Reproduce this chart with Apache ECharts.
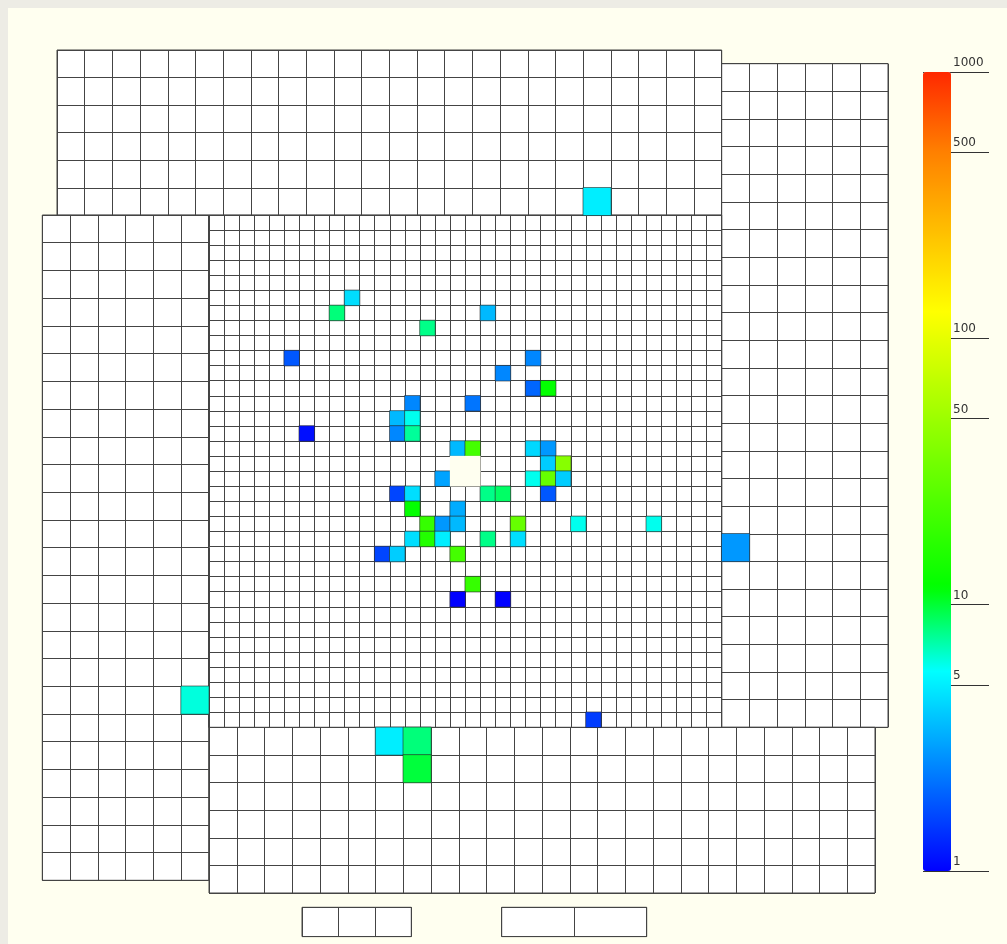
<!DOCTYPE html>
<html><head><meta charset="utf-8">
<script src="https://cdn.jsdelivr.net/npm/echarts@6/dist/echarts.min.js"></script>
<style>
html,body{margin:0;padding:0;background:#edece5;}
#c{position:absolute;left:8px;top:8px;width:999px;height:936px;}
</style></head><body><div id="c"></div>
<script>
// ---- data: [column, row, value] ----
const centerHits = [
  [9,5,4.5],[8,6,8.2],[18,6,3.5],[14,7,7.9],
  [5,9,1.8],[21,9,2.5],[19,10,2.5],
  [21,11,2.0],[22,11,12],
  [13,12,2.5],[17,12,2.2],
  [12,13,3.5],[13,13,5.9],
  [6,14,1.1],[12,14,2.5],[13,14,7.5],
  [16,15,3.5],[17,15,22],[21,15,4.3],[22,15,2.8],
  [22,16,4.0],[23,16,41],
  [15,17,3.0],[21,17,5.9],[22,17,30],[23,17,4.0],
  [12,18,1.6],[13,18,4.5],[18,18,7.9],[19,18,8.7],[22,18,1.8],
  [13,19,12],[16,19,3.2],
  [14,20,19],[15,20,2.8],[16,20,3.5],[20,20,30],[24,20,5.9],[29,20,5.9],
  [13,21,4.5],[14,21,16],[15,21,5.0],[18,21,7.9],[20,21,4.5],
  [11,22,1.6],[12,22,4.0],[16,22,22],
  [17,24,19],
  [16,25,1.0],[19,25,1.0],
  [25,33,1.5]
];
const centerHole = [[16,16],[17,16],[16,17],[17,17]];
const topHits = [[19,5,5.0]];
const rightHits = [[0,17,2.8]];
const leftHits = [[5,17,6.2]];
const bottomHits = [[6,0,5.0],[7,0,8.2],[7,1,9.8]];
const smallAHits = [];
const smallBHits = [];
const colorbarTicks = [1,5,10,50,100,500,1000];
const colorMin = 1, colorMax = 1000;

// ---- layout (chart coords) ----
const modules = [
  {cols:24, rows:6,  left:49,    top:42,    width:664.7, height:165.3, hits:topHits},
  {cols:6,  rows:24, left:713.7, top:55.7,  width:166.3, height:663.6, hits:rightHits},
  {cols:6,  rows:24, left:34.3,  top:207,   width:166.5, height:665.3, hits:leftHits},
  {cols:24, rows:6,  left:201,   top:719.3, width:666,   height:165.7, hits:bottomHits},
  {cols:34, rows:34, left:200.7, top:207,   width:513,   height:512.3, hits:centerHits, hole:centerHole},
  {cols:3,  rows:1,  left:294,   top:899.3, width:109.3, height:29.3, hits:smallAHits},
  {cols:2,  rows:1,  left:493.7, top:899.3, width:145,   height:29.3, hits:smallBHits}
];

const stops = [
  [0.0,[0,0,255]],[0.25,[0,255,255]],[0.355,[0,255,0]],
  [0.70,[255,255,0]],[0.90,[255,128,0]],[1.0,[255,40,0]]
];
function colorAt(t){
  for(let i=1;i<stops.length;i++){
    if(t<=stops[i][0]){
      const a=stops[i-1], b=stops[i];
      const f=(t-a[0])/(b[0]-a[0]);
      const c=a[1].map((v,k)=>Math.round(v+(b[1][k]-v)*f));
      return 'rgb('+c.join(',')+')';
    }
  }
  return 'rgb(255,40,0)';
}
const rampColors=[]; for(let i=0;i<=120;i++) rampColors.push(colorAt(i/120));

const lineCol='#444';
const grid=[], xAxis=[], yAxis=[], series=[], hitSeries=[];
const range=n=>Array.from({length:n},(_,i)=>i);
modules.forEach((m,gi)=>{
  grid.push({left:m.left, top:m.top, width:m.width, height:m.height, show:true,
    backgroundColor:'#ffffff', borderColor:lineCol, borderWidth:1, containLabel:false});
  xAxis.push({type:'category', gridIndex:gi, data:range(m.cols), axisLine:{show:false},
    axisTick:{show:false}, axisLabel:{show:false},
    splitLine:{show:true, interval:0, lineStyle:{color:lineCol, width:1}}});
  yAxis.push({type:'category', gridIndex:gi, inverse:true, data:range(m.rows), axisLine:{show:false},
    axisTick:{show:false}, axisLabel:{show:false},
    splitLine:{show:true, interval:0, lineStyle:{color:lineCol, width:1}}});
  hitSeries.push(series.length);
  series.push({type:'heatmap', xAxisIndex:gi, yAxisIndex:gi,
    data:m.hits.map(h=>[h[0],h[1],Math.log10(h[2])]),
    itemStyle:{borderColor:'rgba(40,40,40,0.6)', borderWidth:1}, silent:true, animation:false});
  if(m.hole){
    series.push({type:'heatmap', xAxisIndex:gi, yAxisIndex:gi,
      data:m.hole.map(h=>[h[0],h[1],0]),
      itemStyle:{color:'#fffff0'}, silent:true, animation:false});
  }
});

// colorbar axes
const cbTop=64, cbH=799;
const gA=grid.length;
grid.push({left:929, top:cbTop, width:52, height:cbH});
xAxis.push({type:'value', gridIndex:gA, show:false});
yAxis.push({type:'value', gridIndex:gA, min:Math.log10(colorMin), max:Math.log10(colorMax), position:'left',
  axisLine:{show:false}, splitLine:{show:false},
  axisTick:{show:true, inside:true, length:52, customValues:colorbarTicks.map(v=>Math.log10(v)),
    lineStyle:{color:'#333', width:1}},
  axisLabel:{show:true, inside:true, margin:16, customValues:colorbarTicks.map(v=>Math.log10(v)),
    formatter:v=>String(Math.round(Math.pow(10,v))), verticalAlign:'bottom', padding:[0,0,3,0],
    fontSize:12, fontFamily:'DejaVu Sans', color:'#333'}});
series.push({type:'scatter', xAxisIndex:gA, yAxisIndex:gA, data:[], silent:true});
const gB=grid.length;
grid.push({left:915, top:cbTop, width:66, height:cbH});
xAxis.push({type:'value', gridIndex:gB, show:false});
yAxis.push({type:'value', gridIndex:gB, min:Math.log10(colorMin), max:Math.log10(colorMax), position:'left',
  axisLine:{show:false}, splitLine:{show:false}, axisLabel:{show:false},
  axisTick:{show:true, inside:true, length:66, customValues:[Math.log10(colorMin),Math.log10(colorMax)],
    lineStyle:{color:'#333', width:1}}});
series.push({type:'scatter', xAxisIndex:gB, yAxisIndex:gB, data:[], silent:true});

const chart=echarts.init(document.getElementById('c'));
chart.setOption({
  backgroundColor:'#fffff0',
  animation:false,
  grid, xAxis, yAxis, series,
  visualMap:{type:'continuous', min:Math.log10(colorMin), max:Math.log10(colorMax),
    seriesIndex:hitSeries, inRange:{color:rampColors}, orient:'vertical',
    left:915, top:cbTop, itemWidth:28, itemHeight:cbH, padding:0,
    calculable:false, hoverLink:false, text:null, showLabel:false, realtime:false}
});
</script></body></html>
